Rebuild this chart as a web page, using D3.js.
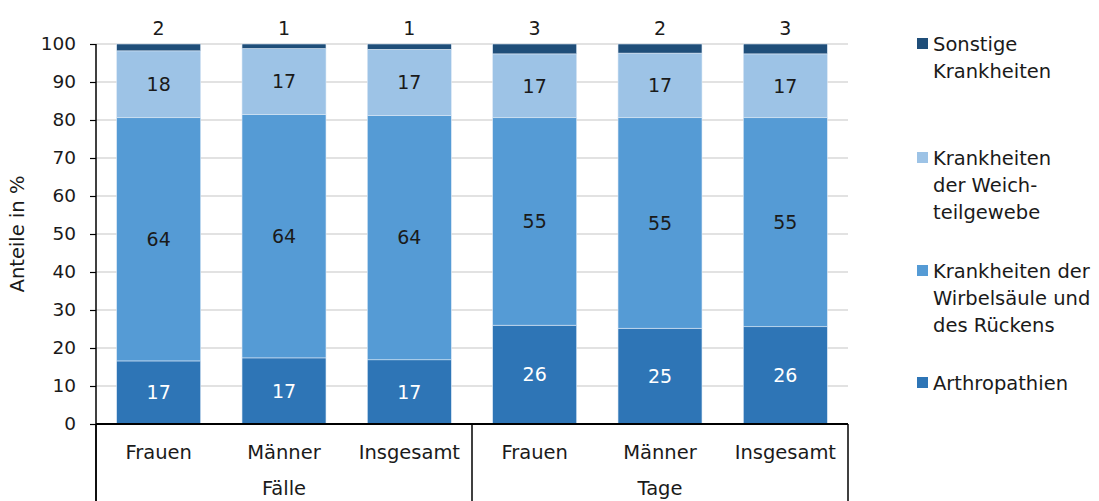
<!DOCTYPE html>
<html><head><meta charset="utf-8">
<script src="https://cdn.jsdelivr.net/npm/d3@7"></script>
<style>body{margin:0;background:#fff}svg{display:block}text{font-family:"DejaVu Sans",sans-serif;fill:#1a1a1a}</style>
</head><body><svg id="c" width="1099" height="501"></svg>
<script>
const groups = ["Fälle","Fälle","Fälle","Tage","Tage","Tage"];
const categories = ["Frauen","Männer","Insgesamt","Frauen","Männer","Insgesamt"];
const groupNames = ["Fälle","Tage"];
const arthropathien = [16.6,17.4,16.9,26.0,25.2,25.6];
const wirbelsaeule = [64.0,64.1,64.3,54.6,55.4,55.0];
const weichteil = [17.6,17.3,17.4,16.8,17.0,16.8];
const sonstige = [1.8,1.2,1.4,2.6,2.4,2.6];
const seriesNames = ["Arthropathien","Krankheiten der Wirbelsäule und des Rückens","Krankheiten der Weichteilgewebe","Sonstige Krankheiten"];
const yTicks = [0,10,20,30,40,50,60,70,80,90,100];
const legendLines = [["Sonstige","Krankheiten"],["Krankheiten","der Weich-","teilgewebe"],["Krankheiten der","Wirbelsäule und","des Rückens"],["Arthropathien"]];

const colors = ["#2E75B6","#559BD5","#9DC3E6","#1F4E79"];
const labelColors = ["#ffffff","#1a1a1a","#1a1a1a","#1a1a1a"];
const seriesVals = [arthropathien, wirbelsaeule, weichteil, sonstige];

const svg = d3.select("#c");
const L=96, R=848, T=44, B=424;
const x = d3.scaleBand().domain(d3.range(categories.length)).range([L,R]).paddingInner(0.33).paddingOuter(0.165);
const y = d3.scaleLinear().domain([0,100]).range([B,T]);

// gridlines
svg.append("g").selectAll("line").data(yTicks.filter(d=>d>0)).join("line")
  .attr("x1",L).attr("x2",R).attr("y1",d=>y(d)).attr("y2",d=>y(d))
  .attr("stroke","#d9d9d9").attr("stroke-width",1.5);

// y axis
const ya = svg.append("g").attr("transform",`translate(${L},0)`)
  .call(d3.axisLeft(y).tickValues(yTicks).tickSize(6).tickPadding(14));
ya.select(".domain").remove();
ya.selectAll(".tick line").attr("stroke","#000").attr("stroke-width",1.2);
ya.selectAll(".tick text").attr("font-size",18.5).attr("fill","#1a1a1a").style("font-family",'"DejaVu Sans",sans-serif');
svg.append("line").attr("x1",L).attr("x2",L).attr("y1",T).attr("y2",501).attr("stroke","#000").attr("stroke-width",1.5);

svg.append("text").attr("transform",`translate(24,${(T+B)/2}) rotate(-90)`).attr("text-anchor","middle")
  .attr("font-size",19.5).text("Anteile in %");

// stacked bars
const rows = categories.map((c,i)=>{const o={i}; seriesVals.forEach((s,k)=>o["s"+k]=s[i]); return o;});
const stack = d3.stack().keys(seriesVals.map((s,k)=>"s"+k))(rows);
stack.forEach((layer,k)=>{
  svg.append("g").selectAll("rect").data(layer).join("rect")
    .attr("x",d=>x(d.data.i)).attr("width",x.bandwidth())
    .attr("y",d=>y(d[1])).attr("height",d=>y(d[0])-y(d[1]))
    .attr("fill",colors[k]).attr("stroke","#dbe8f5").attr("stroke-width",0.6);
});
// labels
stack.forEach((layer,k)=>{
  svg.append("g").selectAll("text").data(layer).join("text")
    .attr("x",d=>x(d.data.i)+x.bandwidth()/2)
    .attr("y",d=> k===3 ? 28 : y((d[0]+d[1])/2))
    .attr("dy","0.36em").attr("text-anchor","middle").attr("font-size",19)
    .style("fill",labelColors[k])
    .text(d=>Math.round(d[1]-d[0]));
});

// x axis baseline
svg.append("line").attr("x1",L).attr("x2",R).attr("y1",B).attr("y2",B).attr("stroke","#000").attr("stroke-width",2);
// group separators
[L,(L+R)/2,R].forEach(v=>svg.append("line").attr("x1",v).attr("x2",v).attr("y1",B).attr("y2",501).attr("stroke","#000").attr("stroke-width",1.5));
// category labels
svg.append("g").selectAll("text").data(categories).join("text")
  .attr("x",(d,i)=>x(i)+x.bandwidth()/2).attr("y",452).attr("dy","0.36em")
  .attr("text-anchor","middle").attr("font-size",19.5).text(d=>d);
// group labels
groupNames.forEach(g=>{
  const idx = groups.map((v,i)=>v===g?i:-1).filter(i=>i>=0);
  const cx = (x(idx[0]) + x(idx[idx.length-1])+x.bandwidth())/2;
  svg.append("text").attr("x",cx).attr("y",488).attr("dy","0.36em").attr("text-anchor","middle").attr("font-size",19.5).text(g);
});

// legend
const legendY = [44,158,271,383];
const legOrder = [3,2,1,0];
legOrder.forEach((k,j)=>{
  const g = svg.append("g");
  g.append("rect").attr("x",917).attr("y",legendY[j]-6).attr("width",11).attr("height",11).attr("fill",colors[k]);
  legendLines[j].forEach((t,li)=>{
    g.append("text").attr("x",933).attr("y",legendY[j]+li*27).attr("dy","0.36em").attr("font-size",19.5).text(t);
  });
});
</script></body></html>
